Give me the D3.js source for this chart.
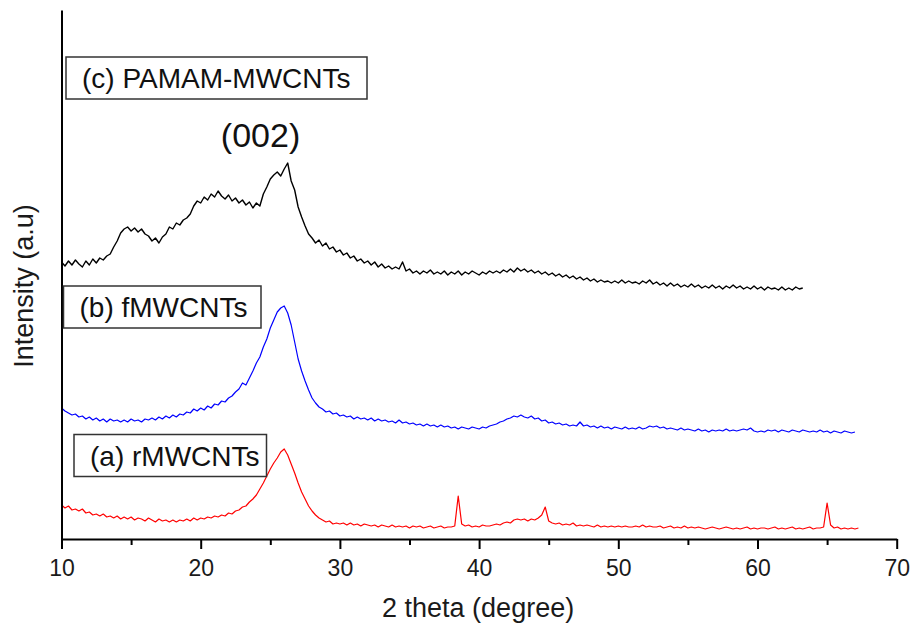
<!DOCTYPE html>
<html>
<head>
<meta charset="utf-8">
<script src="https://cdn.jsdelivr.net/npm/d3@7/dist/d3.min.js"></script>
<style>
  html, body { margin: 0; padding: 0; background: #fff; }
  svg { display: block; font-family: "Liberation Sans", Arial, sans-serif; }
</style>
</head>
<body>
<svg id="chart" width="910" height="626"></svg>
<script>
// XRD step scans, 2θ starting at 10°, 0.25° per step; intensity in arbitrary units
const scanStart = 10;
const scanStep = 0.25;

// (a) rMWCNTs
const rMWCNTs = [
  34,31,33,29,30,28,30,26,27,24,25,23,25,22,23,21,23,20,22,20,
  22,19,21,20,18,21,19,17,20,18,19,17,19,17,19,18,20,18,21,19,
  21,20,22,21,23,22,24,23,26,25,28,29,32,33,37,40,44,50,56,63,
  70,76,81,87,90,84,75,66,56,47,40,33,28,24,21,19,17,18,15,16,
  15,16,14,16,14,15,13,15,14,13,14,12,14,13,12,14,12,13,12,13,
  11,13,12,13,11,12,13,11,12,13,11,12,12,13,43,15,13,14,12,13,
  12,14,13,13,14,15,14,16,17,16,19,20,19,20,18,20,19,21,24,32,
  18,16,15,16,14,15,14,16,13,14,13,14,13,12,14,12,13,12,13,12,
  13,12,13,12,12,13,12,14,12,13,12,12,13,11,12,13,11,12,11,13,
  11,12,11,12,11,10,11,12,11,10,11,12,11,10,11,10,11,12,10,11,
  10,11,11,10,11,12,10,11,10,11,12,10,11,10,11,12,10,11,11,12,
  36,14,11,12,10,11,10,11,10,11
];

// (b) fMWCNTs
const fMWCNTs = [
  131,128,126,124,125,122,123,120,122,119,121,118,120,117,120,118,119,117,119,117,
  120,118,119,117,120,119,121,119,122,120,123,121,124,122,125,124,127,126,130,128,
  131,129,133,131,135,134,138,137,141,143,147,150,156,154,161,168,176,182,192,200,
  211,219,227,231,233,226,214,197,180,168,158,149,141,136,132,130,127,128,125,126,
  123,124,122,123,120,122,120,121,119,121,118,120,118,119,117,118,116,119,116,117,
  115,116,114,115,113,115,113,114,112,114,112,113,111,112,110,112,111,110,112,111,
  110,112,111,113,114,115,117,118,120,121,123,122,124,122,121,123,120,121,118,119,
  116,117,115,116,114,115,113,114,113,117,113,114,112,113,111,113,111,112,110,112,
  111,110,112,110,111,110,112,110,111,113,112,113,111,112,110,111,110,109,111,109,
  110,109,108,110,108,109,107,109,108,109,108,110,108,109,108,109,110,109,111,108,
  107,108,107,109,108,109,107,109,108,107,109,108,107,109,108,107,108,107,109,107,
  108,106,108,107,106,108,107,106,107
];

// (c) PAMAM-MWCNTs
const pamamMWCNTs = [
  277,273,278,274,279,275,272,278,274,280,276,281,279,283,285,292,298,306,310,312,
  308,311,307,310,305,303,298,301,296,302,305,312,310,316,314,319,321,325,333,338,
  336,342,339,345,342,348,343,340,344,338,341,336,339,334,337,331,336,333,345,352,
  360,364,367,363,370,376,358,349,332,322,313,305,301,296,299,293,296,290,292,287,
  289,284,286,281,283,278,280,276,278,274,277,272,275,271,273,270,272,270,277,268,
  270,266,268,265,268,266,269,265,267,265,268,264,267,265,268,264,267,265,268,266,
  264,267,265,268,266,268,266,269,267,270,267,271,268,270,267,269,266,268,265,267,
  264,266,263,265,262,264,261,263,260,262,259,261,258,260,257,259,257,258,256,258,
  256,259,256,258,256,257,255,258,256,259,255,257,254,256,253,256,253,255,252,254,
  252,255,252,254,251,253,251,254,251,253,250,253,251,254,251,253,250,252,250,253,
  250,252,249,252,250,251,249,252,249,251,249,252,250,251
];

const seriesNames = ["(a) rMWCNTs", "(b) fMWCNTs", "(c) PAMAM-MWCNTs"];
const seriesColors = ["#ff0000", "#0000ff", "#000000"];
const xMajorTicks = [10, 20, 30, 40, 50, 60, 70];
const xMinorTicks = [15, 25, 35, 45, 55, 65];
const peakLabel = "(002)";
const xTitle = "2 theta (degree)";
const yTitle = "Intensity (a.u)";

const svg = d3.select("#chart");
const plot = { left: 61.5, right: 896.7, top: 10, bottom: 539 };

const x = d3.scaleLinear().domain([10, 70]).range([plot.left, plot.right]);
const y = d3.scaleLinear().domain([0, 529]).range([plot.bottom, plot.top]);

const toPoints = vals => vals.map((v, i) => [scanStart + i * scanStep, v]);
const series = [rMWCNTs, fMWCNTs, pamamMWCNTs].map(toPoints);

const line = d3.line().x(d => x(d[0])).y(d => y(d[1]));

series.forEach((pts, k) => {
  svg.append("path")
    .datum(pts)
    .attr("fill", "none")
    .attr("stroke", seriesColors[k])
    .attr("stroke-width", k === 2 ? 1.4 : 1.2)
    .attr("stroke-linejoin", "round")
    .attr("d", line);
});

// bottom axis: major ticks with labels, minor ticks without
const xAxis = svg.append("g")
  .attr("transform", `translate(0,${plot.bottom})`)
  .call(d3.axisBottom(x).tickValues(xMajorTicks).tickSize(10).tickSizeOuter(0).tickPadding(11));
xAxis.select(".domain").attr("stroke", "#000").attr("stroke-width", 2);
xAxis.selectAll(".tick line").attr("stroke", "#000").attr("stroke-width", 2);
xAxis.selectAll(".tick text")
  .attr("font-family", "'Liberation Sans', Arial, sans-serif")
  .attr("font-size", 23).attr("fill", "#1a1a1a");

const xMinor = svg.append("g")
  .attr("transform", `translate(0,${plot.bottom})`)
  .call(d3.axisBottom(x).tickValues(xMinorTicks).tickSize(6).tickSizeOuter(0).tickFormat(""));
xMinor.select(".domain").remove();
xMinor.selectAll(".tick line").attr("stroke", "#000").attr("stroke-width", 2);

// left axis: line only
const yAxis = svg.append("g")
  .attr("transform", `translate(${plot.left},0)`)
  .call(d3.axisLeft(y).tickValues([]).tickSizeOuter(0));
yAxis.select(".domain").attr("stroke", "#000").attr("stroke-width", 2);

// axis titles
svg.append("text")
  .attr("x", (plot.left + plot.right) / 2 - 1)
  .attr("y", 617)
  .attr("text-anchor", "middle")
  .attr("font-size", 27).attr("fill", "#1a1a1a")
  .text(xTitle);

svg.append("text")
  .attr("transform", `translate(33,${286}) rotate(-90)`)
  .attr("text-anchor", "middle")
  .attr("font-size", 27).attr("fill", "#1a1a1a")
  .text(yTitle);

// boxed series labels
const boxes = [
  { x: 74, y: 434.5, w: 192.5, h: 42 },
  { x: 63.5, y: 286, w: 197.5, h: 42 },
  { x: 66, y: 57, w: 301, h: 42 }
];
boxes.forEach((b, k) => {
  svg.append("rect")
    .attr("x", b.x).attr("y", b.y).attr("width", b.w).attr("height", b.h)
    .attr("fill", "#fff").attr("stroke", "#333").attr("stroke-width", 1.5);
  svg.append("text")
    .attr("x", b.x + 16).attr("y", b.y + 31)
    .attr("font-size", 28).attr("fill", "#111")
    .text(seriesNames[k]);
});

// reflection label over the graphite peak
svg.append("text")
  .attr("x", x(24.3)).attr("y", 147)
  .attr("text-anchor", "middle")
  .attr("font-size", 34).attr("fill", "#111")
  .text(peakLabel);
</script>
</body>
</html>
